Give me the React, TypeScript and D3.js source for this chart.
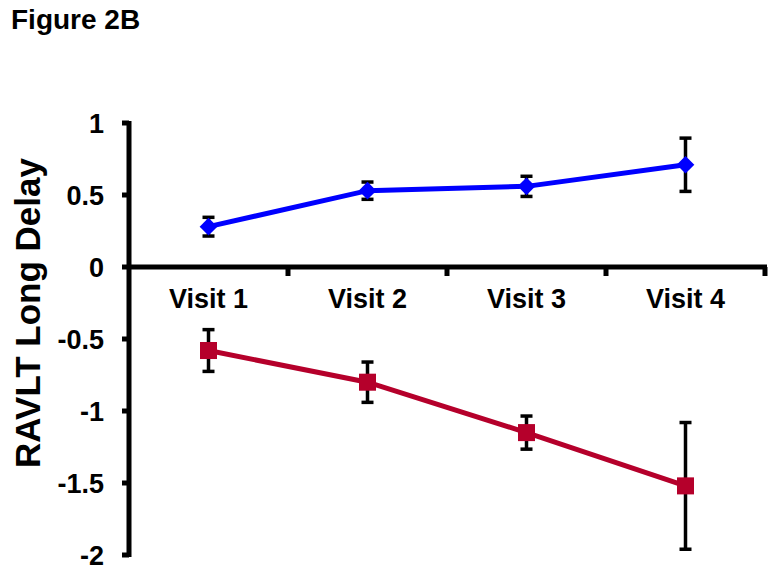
import React from 'react';
import * as d3 from 'd3';

const visits = ['Visit 1', 'Visit 2', 'Visit 3', 'Visit 4'];
const blueMean = [0.28, 0.53, 0.56, 0.71];
const blueErr = [0.065, 0.06, 0.07, 0.185];
const redMean = [-0.58, -0.8, -1.15, -1.52];
const redErr = [0.145, 0.14, 0.115, 0.44];
const yTicks = [1, 0.5, 0, -0.5, -1, -1.5, -2];

const width = 776;
const height = 573;
const marginLeft = 129;
const marginRight = 11;
const marginTop = 123;
const marginBottom = 18;

const FONT = 'Arial, "Liberation Sans", Helvetica, sans-serif';

export default function App() {
  const x = d3.scaleBand<string>(visits, [marginLeft, width - marginRight]);
  const y = d3.scaleLinear([-2, 1], [height - marginBottom, marginTop]);
  const cx = (v: string) => (x(v) ?? 0) + x.bandwidth() / 2;

  const line = d3.line<number>()
    .x((_, i) => cx(visits[i]))
    .y(d => y(d));

  // tick marks between categories and at the right end
  const boundaries = visits.map((v) => (x(v) ?? 0) + x.bandwidth());

  const errorBars = (means: number[], errs: number[], key: string) =>
    means.map((m, i) => {
      const px = cx(visits[i]);
      const top = y(m + errs[i]);
      const bot = y(m - errs[i]);
      return (
        <g key={key + i} stroke="#000" strokeWidth={3.5}>
          <line x1={px} x2={px} y1={top} y2={bot} />
          <line x1={px - 6} x2={px + 6} y1={top} y2={top} />
          <line x1={px - 6} x2={px + 6} y1={bot} y2={bot} />
        </g>
      );
    });

  const diamond = d3.symbol(d3.symbolDiamond2, 200)();
  const square = d3.symbol(d3.symbolSquare, 290)();

  return (
    <svg width={width} height={height} viewBox={`0 0 ${width} ${height}`}
      style={{ position: 'absolute', left: 0, top: 0, background: '#fff' }}>
      <text x={11} y={29} fontFamily={FONT} fontWeight="bold" fontSize={28}>Figure 2B</text>

      {/* y axis */}
      <g>
        <line x1={marginLeft} x2={marginLeft} y1={y(1) - 2} y2={y(-2) + 2} stroke="#000" strokeWidth={5} />
        {yTicks.map(t => (
          <g key={t}>
            <line x1={marginLeft - 7} x2={marginLeft} y1={y(t)} y2={y(t)} stroke="#000" strokeWidth={5} />
            <text x={104} y={y(t)} dy="0.36em" textAnchor="end" fontFamily={FONT}
              fontWeight="bold" fontSize={27}>{String(t)}</text>
          </g>
        ))}
      </g>

      {/* x axis at zero */}
      <g>
        <line x1={marginLeft} x2={width - marginRight + 2} y1={y(0)} y2={y(0)} stroke="#000" strokeWidth={5} />
        {boundaries.map((b, i) => (
          <line key={i} x1={b} x2={b} y1={y(0)} y2={y(0) + 9} stroke="#000" strokeWidth={5} />
        ))}
        {visits.map(v => (
          <text key={v} x={cx(v)} y={y(0) + 41} textAnchor="middle" fontFamily={FONT}
            fontWeight="bold" fontSize={27}>{v}</text>
        ))}
      </g>

      <text transform={`translate(40,${313}) rotate(-90)`} textAnchor="middle" fontFamily={FONT}
        fontWeight="bold" fontSize={35}>RAVLT Long Delay</text>

      {/* blue series */}
      {errorBars(blueMean, blueErr, 'b')}
      <path d={line(blueMean) ?? ''} fill="none" stroke="#0000ff" strokeWidth={5} />
      {blueMean.map((m, i) => (
        <path key={i} d={diamond ?? ''} transform={`translate(${cx(visits[i])},${y(m)})`} fill="#0000ff" />
      ))}

      {/* red series */}
      {errorBars(redMean, redErr, 'r')}
      <path d={line(redMean) ?? ''} fill="none" stroke="#b5002b" strokeWidth={5} />
      {redMean.map((m, i) => (
        <path key={i} d={square ?? ''} transform={`translate(${cx(visits[i])},${y(m)})`} fill="#b5002b" />
      ))}
    </svg>
  );
}
